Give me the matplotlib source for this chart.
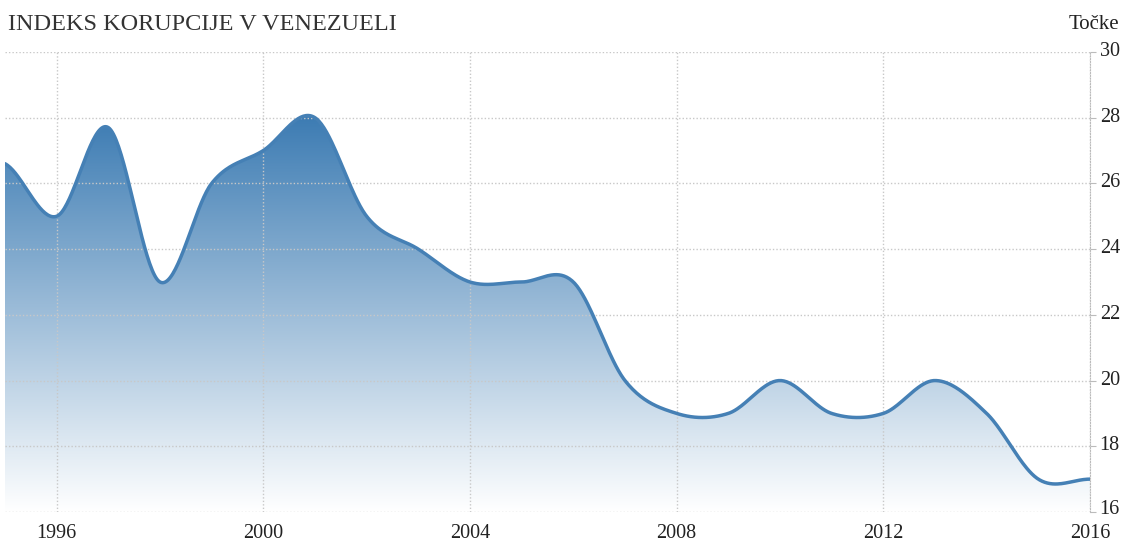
import numpy as np
import matplotlib
matplotlib.use("Agg")
import matplotlib.pyplot as plt
import matplotlib.transforms as mtransforms
from matplotlib.patches import Polygon
from matplotlib.ticker import FixedLocator

years = [1995, 1996, 1997, 1998, 1999, 2000, 2001, 2002, 2003, 2004, 2005,
         2006, 2007, 2008, 2009, 2010, 2011, 2012, 2013, 2014, 2015, 2016]
values = [26.6, 25, 27.7, 23, 26, 27, 28, 25, 24, 23, 23,
          23, 20, 19, 19, 20, 19, 19, 20, 19, 17, 17]
xticks = [1996, 2000, 2004, 2008, 2012, 2016]
yticks = [16, 18, 20, 22, 24, 26, 28, 30]
title = "INDEKS KORUPCIJE V VENEZUELI"
unit = "Točke"

plt.rcParams['font.family'] = ['Liberation Serif', 'DejaVu Serif']


def catmull_rom(x, y, n=40):
    x = np.asarray(x, float)
    y = np.asarray(y, float)
    px = np.concatenate([[2 * x[0] - x[1]], x, [2 * x[-1] - x[-2]]])
    py = np.concatenate([[y[0]], y, [y[-1]]])
    xs, ys = [], []
    for i in range(1, len(px) - 2):
        t = np.linspace(0, 1, n, endpoint=False)
        p0, p1, p2, p3 = py[i - 1], py[i], py[i + 1], py[i + 2]
        m1 = (p2 - p0) / 2
        m2 = (p3 - p1) / 2
        h00 = 2 * t**3 - 3 * t**2 + 1
        h10 = t**3 - 2 * t**2 + t
        h01 = -2 * t**3 + 3 * t**2
        h11 = t**3 - t**2
        ys.append(h00 * p1 + h10 * m1 + h01 * p2 + h11 * m2)
        xs.append(px[i] + t * (px[i + 1] - px[i]))
    xs.append([x[-1]])
    ys.append([y[-1]])
    return np.concatenate(xs), np.concatenate(ys)


sx, sy = catmull_rom(years, values)

fig = plt.figure(figsize=(11.26, 5.46), dpi=100)
ax = fig.add_axes([0.0044, 0.0623, 0.9636, 0.8425])
ax.set_xlim(1995, 2016)
ax.set_ylim(16, 30)

# gradient fill
grad = np.linspace(1, 0, 256).reshape(-1, 1)
top = np.array([0x3a, 0x7a, 0xb2]) / 255.0
bot = np.array([1.0, 1.0, 1.0])
img = bot + (top - bot) * grad
img = img.reshape(256, 1, 3)
im = ax.imshow(img, extent=[1995, 2016, 16, 28.2], aspect='auto', origin='upper', zorder=1)
poly = Polygon(np.column_stack([np.concatenate([sx, [2016, 1995]]),
                                np.concatenate([sy, [16, 16]])]),
               closed=True, facecolor='none', edgecolor='none')
ax.add_patch(poly)
im.set_clip_path(poly)

ax.plot(sx, sy, color='#4580b5', lw=2.5, zorder=3, solid_capstyle='round')

ax.xaxis.set_major_locator(FixedLocator(xticks))
ax.yaxis.set_major_locator(FixedLocator(yticks))
ax.yaxis.tick_right()
ax.grid(True, color='#c8c8c8', linestyle=(0, (1, 1.5)), lw=1, zorder=0)
for s in ['top', 'left', 'bottom']:
    ax.spines[s].set_visible(False)
ax.spines['right'].set_linestyle((0, (1, 1.5)))
ax.spines['right'].set_color('#bbbbbb')
ax.tick_params(axis='y', length=4, color='#bbbbbb', labelsize=14.5, pad=3, labelcolor='#222222')
ax.tick_params(axis='x', length=0, labelsize=14.5, pad=9, labelcolor='#222222')

shift = mtransforms.ScaledTranslation(0, 3 / 100, fig.dpi_scale_trans)
for lab in ax.get_yticklabels():
    lab.set_transform(lab.get_transform() + shift)
last = ax.get_yticklabels()[0]
last.set_transform(last.get_transform() + mtransforms.ScaledTranslation(0, 2 / 100, fig.dpi_scale_trans))

fig.text(0.007, 0.955, title, fontsize=17.5, color='#333333', ha='left', va='center')
fig.text(0.994, 0.955, unit, fontsize=15, color='#222222', ha='right', va='center')

fig.savefig('out.png', dpi=100)
